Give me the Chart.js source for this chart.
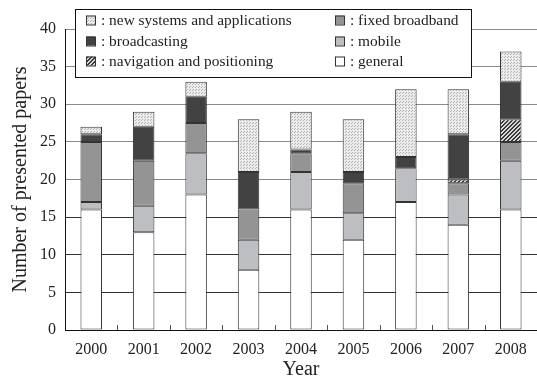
<!DOCTYPE html>
<html><head><meta charset="utf-8">
<script src="https://cdn.jsdelivr.net/npm/chart.js@4"></script>
<style>html,body{margin:0;padding:0;background:#fff;overflow:hidden}#wrap{width:537px;height:378px}</style>
</head><body><div id="wrap"><canvas id="c" width="537" height="378"></canvas></div>
<script>
const years = ['2000','2001','2002','2003','2004','2005','2006','2007','2008'];
const general      = [16, 13, 18, 8, 16, 12, 17, 14, 16];
const mobile       = [1, 3.5, 5.5, 4, 5, 3.5, 4.5, 4, 6.5];
const fixedBroadband = [8, 6, 4, 4, 2.5, 4, 0, 1.5, 2.5];
const navigation   = [0, 0, 0, 0, 0, 0, 0, 0.5, 3];
const broadcasting = [1, 4.5, 3.5, 5, 0.5, 1.5, 1.5, 6, 5];
const newSystems   = [1, 2, 2, 7, 5, 7, 9, 6, 4];
const yTicks = [0, 5, 10, 15, 20, 25, 30, 35, 40];

const FONT = "'Liberation Serif', 'Times New Roman', serif";

function dotPattern() {
  const c = document.createElement('canvas'); c.width = 3; c.height = 3;
  const g = c.getContext('2d');
  g.fillStyle = '#ececec'; g.fillRect(0,0,3,3);
  g.fillStyle = '#b0b0b0'; g.fillRect(0,0,1,1); g.fillRect(1,2,1,1);
  return g.createPattern(c, 'repeat');
}
function hatchPattern() {
  const c = document.createElement('canvas'); c.width = 4; c.height = 4;
  const g = c.getContext('2d');
  g.fillStyle = '#d8d8d8'; g.fillRect(0,0,4,4);
  g.fillStyle = '#3a3a3a';
  for (let i = 0; i < 4; i++) { g.fillRect(i, 3 - i, 1, 1); g.fillRect((i + 1) % 4, 3 - i, 1, 1); }
  return g.createPattern(c, 'repeat');
}
const dots = dotPattern(), hatch = hatchPattern();

const series = [
  {label: 'general', data: general, bg: '#ffffff'},
  {label: 'mobile', data: mobile, bg: '#bdbec2'},
  {label: 'fixed broadband', data: fixedBroadband, bg: '#949494'},
  {label: 'navigation and positioning', data: navigation, bg: hatch},
  {label: 'broadcasting', data: broadcasting, bg: '#424242'},
  {label: 'new systems and applications', data: newSystems, bg: dots}
];

const legendLeft = ['new systems and applications', 'broadcasting', 'navigation and positioning'];
const legendRight = ['fixed broadband', 'mobile', 'general'];

const legendPlugin = {
  id: 'boxLegend',
  afterDraw(chart) {
    const ctx = chart.ctx;
    const xs = chart.scales.x;
    ctx.save();
    ctx.strokeStyle = '#555'; ctx.lineWidth = 1;
    for (let i = 0; i < years.length - 1; i++) {
      const x = Math.round((xs.getPixelForValue(i) + xs.getPixelForValue(i + 1)) / 2) + 0.5;
      ctx.beginPath(); ctx.moveTo(x, chart.chartArea.bottom); ctx.lineTo(x, chart.chartArea.bottom - 5); ctx.stroke();
    }
    ctx.fillStyle = '#fff';
    ctx.fillRect(75, 9, 397, 69);
    ctx.strokeStyle = '#111'; ctx.lineWidth = 1;
    ctx.strokeRect(75.5, 9.5, 396, 68);
    ctx.font = '15.4px ' + FONT;
    ctx.textBaseline = 'middle';
    const rowsY = [20, 41, 61];
    const draw = (names, sx) => {
      names.forEach((n, i) => {
        const s = series.find(d => d.label === n);
        const y = rowsY[i];
        ctx.fillStyle = s.bg;
        ctx.fillRect(sx, y - 4.5, 9, 9);
        ctx.strokeStyle = '#333';
        ctx.strokeRect(sx + 0.5, y - 4.5 + 0.5, 9, 9);
        ctx.fillStyle = '#222';
        ctx.fillText(': ' + n, sx + 15, y + 1);
      });
    };
    draw(legendLeft, 86);
    draw(legendRight, 335);
    ctx.restore();
  }
};

new Chart(document.getElementById('c'), {
  type: 'bar',
  data: {
    labels: years,
    datasets: series.map(s => ({
      label: s.label, data: s.data, backgroundColor: s.bg,
      borderColor: '#333', borderWidth: 1, borderSkipped: false,
      barPercentage: 0.41, categoryPercentage: 1
    }))
  },
  options: {
    responsive: false, animation: false,
    layout: {padding: {top: 29, right: 0, left: 0, bottom: 0}},
    plugins: {legend: {display: false}, tooltip: {enabled: false}},
    scales: {
      x: {
        stacked: true,
        afterFit: s => { s.height = 48; },
        grid: {display: false, drawTicks: false},
        border: {display: true, color: '#111', width: 1},
        ticks: {font: {family: FONT, size: 16}, color: '#222', padding: 10, maxRotation: 0},
        title: {display: true, text: 'Year', font: {family: FONT, size: 20, lineHeight: 0.85}, color: '#222', padding: {top: 0, bottom: 0}}
      },
      y: {
        stacked: true, min: 0, max: 40,
        afterFit: s => { s.width = 65; },
        afterBuildTicks: s => { s.ticks = yTicks.map(v => ({value: v})); },
        grid: {drawTicks: false, color: c => (c.tick && c.tick.value >= 20 ? '#8a8a8a' : '#333'), lineWidth: 1},
        border: {display: true, color: '#111', width: 1},
        ticks: {font: {family: FONT, size: 16}, color: '#222', padding: 9},
        title: {display: true, text: 'Number of presented papers', font: {family: FONT, size: 20, lineHeight: 1}, color: '#222', padding: {top: 11, bottom: 0}}
      }
    }
  },
  plugins: [legendPlugin]
});
</script></body></html>
